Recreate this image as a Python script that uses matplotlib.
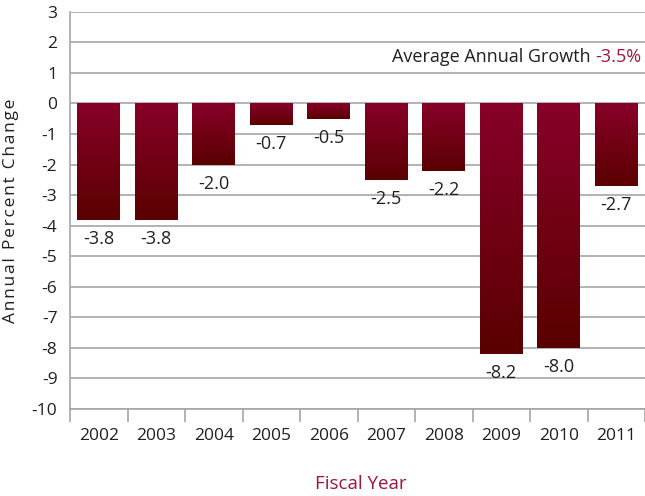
import numpy as np
import matplotlib.pyplot as plt
from matplotlib.colors import LinearSegmentedColormap

# data
years = ['2002', '2003', '2004', '2005', '2006', '2007', '2008', '2009', '2010', '2011']
change = [-3.8, -3.8, -2.0, -0.7, -0.5, -2.5, -2.2, -8.2, -8.0, -2.7]
avg_growth = '-3.5%'

plt.rcParams['font.family'] = ['Open Sans', 'DejaVu Sans']
text_col = '#231f20'
red_col = '#a0153e'
grid_col = '#a6a6a6'

fig = plt.figure(figsize=(6.45, 4.96), dpi=100)
ax = fig.add_axes([70 / 645, 1 - 409 / 496, 1 - 70 / 645, (409 - 11.7) / 496])

x = np.arange(len(years))
width = 0.74
bars = ax.bar(x, change, width=width, color='none', zorder=3)

# vertical gradient inside each bar
cmap = LinearSegmentedColormap.from_list('bar', ['#870028', '#5a0000'])
grad = np.linspace(0, 1, 256).reshape(-1, 1)
for b in bars:
    x0, y0 = b.get_x(), b.get_y()
    w, h = b.get_width(), b.get_height()
    # bars go down from 0, so top = 0, bottom = value
    ax.imshow(grad, cmap=cmap, aspect='auto', zorder=3, interpolation='bilinear',
              extent=[x0, x0 + w, y0 + h, y0], origin='upper')

for xi, v in zip(x, change):
    ax.text(xi, v - 0.33, f'{v:.1f}', ha='center', va='top',
            fontsize=13, color=text_col, zorder=4)

ax.set_xlim(-0.5, 9.5 - 5 / 58)
ax.set_ylim(-10, 3)
ax.set_yticks(range(-10, 4))
ax.set_yticklabels([str(v) for v in range(-10, 4)])
ax.yaxis.grid(True, color=grid_col, linewidth=1.2, zorder=0)
ax.set_axisbelow(True)

ax.set_xticks(x)
ax.set_xticklabels(years)
ax.set_xticks(np.arange(-0.5, 10, 1), minor=True)
ax.tick_params(axis='x', which='major', length=0, pad=14, labelsize=12.5, labelcolor=text_col)
ax.tick_params(axis='x', which='minor', length=9, width=1.2, color=grid_col)
ax.tick_params(axis='y', length=0, pad=9, labelsize=12.5, labelcolor=text_col)

for s in ['top', 'right']:
    ax.spines[s].set_visible(False)
for s in ['left', 'bottom']:
    ax.spines[s].set_color(grid_col)
    ax.spines[s].set_linewidth(1.2)
ax.spines['bottom'].set_zorder(5)

ylab = '\u200a'.join('Annual Percent Change')
ax.set_ylabel(ylab, fontsize=12.5, color=text_col)
ax.yaxis.set_label_coords(-0.088, 0.5)

fig.text(361 / 645, 1 - 484 / 496, 'Fiscal Year', ha='center', va='center',
         fontsize=13.5, color=red_col)

# average annual growth label, two colours
t_red = fig.text(641 / 645, 1 - 57 / 496, avg_growth, ha='right', va='center',
                 fontsize=13, color=red_col)
fig.canvas.draw()
bb = t_red.get_window_extent()
fig.text((bb.x0 - 4) / 645, 1 - 57 / 496, 'Average Annual Growth', ha='right', va='center',
         fontsize=13, color=text_col)

fig.savefig('out.png', dpi=100)
